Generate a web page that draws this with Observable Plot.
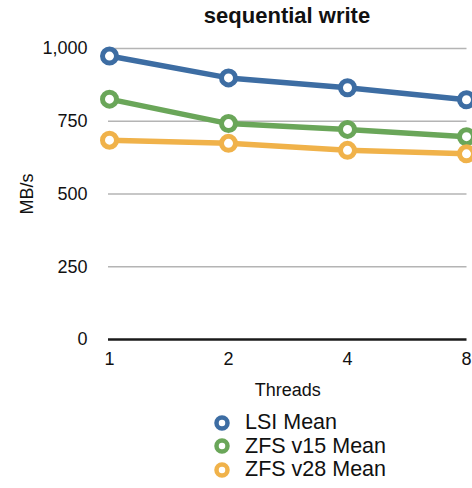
<!DOCTYPE html>
<html>
<head>
<meta charset="utf-8">
<script src="https://cdn.jsdelivr.net/npm/d3@7"></script>
<script src="https://cdn.jsdelivr.net/npm/@observablehq/plot@0.6"></script>
<style>
  html, body { margin: 0; padding: 0; background: #fff; }
  body { font-family: "Liberation Sans", Arial, Helvetica, sans-serif; }
  #wrap { position: relative; width: 472px; height: 488px; overflow: hidden; }
  #title { position: absolute; left: 108px; width: 358px; top: 5px; line-height: 22px; text-align: center; font-weight: bold; font-size: 22px; color: #111; }
  #chart { position: absolute; left: 0; top: 0; }
  #legend { position: absolute; left: 211px; top: 411px; font-size: 21.5px; color: #111; }
  .item { display: flex; align-items: center; height: 23.5px; }
  .item svg { margin-right: 12px; }
</style>
</head>
<body>
<div id="wrap">
  <div id="chart"></div>
  <div id="title">sequential write</div>
  <div id="legend"></div>
</div>
<script>
const threads = ["1", "2", "4", "8"];
const seriesNames = ["LSI Mean", "ZFS v15 Mean", "ZFS v28 Mean"];
const lsiMean = [974, 899, 865, 824];
const zfsV15Mean = [826, 742, 722, 697];
const zfsV28Mean = [685, 674, 650, 638];
const seriesColors = ["#3d6da3", "#6aa659", "#f0b24a"];
const yTicks = [0, 250, 500, 750, 1000];

const seriesValues = [lsiMean, zfsV15Mean, zfsV28Mean];
const data = [];
seriesNames.forEach((s, i) => threads.forEach((t, j) => data.push({series: s, threads: t, value: seriesValues[i][j]})));

const plot = Plot.plot({
  width: 472,
  height: 400,
  marginLeft: 108,
  marginRight: 5.5,
  marginTop: 48,
  marginBottom: 61,
  style: {fontSize: "18px", fontFamily: "Liberation Sans, Arial, Helvetica, sans-serif", color: "#111", overflow: "visible"},
  x: {type: "point", domain: threads, padding: 0},
  y: {domain: [0, 1000]},
  color: {domain: seriesNames, range: seriesColors},
  marks: [
    Plot.ruleY(yTicks.filter(d => d > 0), {stroke: "#b4b4b4", strokeWidth: 1.3}),
    Plot.ruleY([0], {stroke: "#1a1a1a", strokeWidth: 2.5}),
    Plot.axisY({ticks: yTicks, tickSize: 0, tickPadding: 21, tickFormat: d3.format(","), label: "MB/s", labelAnchor: "center", labelArrow: "none", labelOffset: 88}),
    Plot.axisX({tickSize: 0, tickPadding: 13, label: "Threads", labelAnchor: "center", labelArrow: "none", labelOffset: 56}),
    Plot.line(data, {x: "threads", y: "value", z: "series", stroke: "series", strokeWidth: 5.5}),
    Plot.dot(data, {x: "threads", y: "value", stroke: "series", fill: "white", r: 7, strokeWidth: 5})
  ]
});
document.getElementById("chart").appendChild(plot);

const legend = document.getElementById("legend");
seriesNames.forEach((s, i) => {
  const row = document.createElement("div");
  row.className = "item";
  row.innerHTML = `<svg width="22" height="22"><circle cx="11" cy="11" r="5.5" fill="white" stroke="${seriesColors[i]}" stroke-width="4.5"/></svg><span>${s}</span>`;
  legend.appendChild(row);
});
</script>
</body>
</html>
